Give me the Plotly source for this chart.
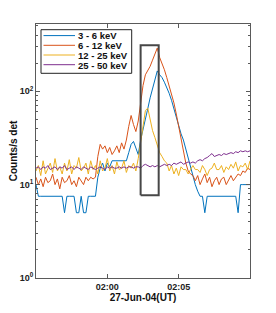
import pandas as pd
import plotly.graph_objects as go

# sample times (10 s cadence) 01:55:00 .. 02:10:00 on 27-Jun-2004
times = pd.date_range("2004-06-27 01:55:00", periods=91, freq="10s")

band_3_6 = [10, 7.5, 7.5, 7.5, 7.5, 7.5, 7.5, 7.5, 7.5, 7.5, 7.5, 7.5, 5, 7.5, 7.5, 7.5, 7.5, 5, 5, 7.5,
            5, 5, 7.5, 7.5, 7.5, 7.5, 12, 15, 17, 14, 17, 15.5, 18, 18, 18, 18, 18, 18, 18, 22,
            27, 29, 24, 21, 30, 40, 52, 65, 85, 105, 135, 165, 150, 140, 125, 110, 95, 80, 65, 52,
            42, 35, 30, 24, 19, 15, 12, 10, 8.5, 7.5, 7.5, 5, 7.5, 7.5, 7.5, 7.5, 7.5, 7.5, 7.5, 7.5,
            7.5, 7.5, 7.5, 7.5, 7.5, 5, 10, 10, 10, 10, 10]

band_6_12 = [12, 10, 11.5, 9.5, 12, 10.5, 11, 13, 10, 11.5, 9, 12, 10.5, 11, 12.5, 10, 11, 9.5, 12, 11,
             10, 12, 11, 12, 11.5, 12,
             20, 27, 24, 26, 22, 25, 21, 23, 26, 22, 28, 24, 30,
             42, 55, 44, 37, 48,
             80, 115, 150, 165, 185, 215, 245, 290, 230, 200, 170, 140, 115, 95, 75, 57, 42, 30, 24,
             17, 14, 13, 12.5,
             11, 12.5, 10, 11.5, 13, 10.5, 12, 9.5, 11, 12, 10, 11.5, 12, 10, 11, 12.5, 11, 12, 13,
             12.5, 14, 13.5, 15, 14.5]

band_12_25 = [14, 16, 12.5, 18, 13, 15, 17, 13.5, 19, 14, 15.5, 13, 17, 14, 18.5, 13, 16, 15, 19.5, 14,
              15, 17, 13, 18, 14.5, 16,
              13, 18, 14, 15, 19, 14, 16, 13, 17.5, 14.5, 15, 18, 13.5, 16, 15, 17, 14, 19,
              28, 45, 62, 66, 48, 38, 32, 27, 22, 20, 18, 17, 14, 16, 13,
              15, 12.5, 15.5, 14.5, 14.5, 13, 14.5, 16, 14.5, 14.5, 13.5, 16, 14.5, 12.5, 14.5, 15,
              17, 14.5, 14.5, 16, 13.5, 15.5, 14.5, 16.5, 15, 17.5, 14, 16, 15.5, 17, 14.5, 18]

band_25_50 = [15, 15.5, 14.5, 15.5, 15, 16, 14.5, 15, 15.5, 14.5, 15.5, 15, 16, 14.5, 15, 15.5, 14.5,
              15.5, 15, 14.5, 15.5, 15, 14.5, 15.5, 15, 14.5,
              15, 15.5, 15, 14.5, 15.5, 15, 15.5, 15, 15, 15.5, 15, 15.5, 15, 15.5, 15.5, 15, 15.5,
              15.5, 15, 16,
              16.5, 16, 15.5, 16, 15.5, 16, 15.5, 16, 16.5, 16, 16.5, 16, 17, 16.5, 17, 17.5, 16.5,
              17, 17.5, 17,
              17.5, 17, 18, 18.5, 18, 19, 19.5, 20.5, 21.5, 20, 20.5, 21, 20.5, 21.5, 21, 21.5, 22,
              21.5, 22.5, 22, 23, 22.5, 23, 22.5, 23]

series_names = ["3 - 6 keV", "6 - 12 keV", "12 - 25 keV", "25 - 50 keV"]
series_values = [band_3_6, band_6_12, band_12_25, band_25_50]
series_colors = ["#0072BD", "#D95319", "#EDB120", "#7E2F8E"]

# highlighted interval (box)
rect_t0 = "2004-06-27 02:02:20"
rect_t1 = "2004-06-27 02:03:36"
rect_lo = 7.7
rect_hi = 310

x_tickvals = ["2004-06-27 02:00:00", "2004-06-27 02:05:00"]
x_ticktext = ["02:00", "02:05"]
y_tickvals = [1, 10, 100]
y_ticktext = ["10<sup>0</sup>", "10<sup>1</sup>", "10<sup>2</sup>"]
y_minor = [2, 3, 4, 5, 6, 7, 8, 9, 20, 30, 40, 50, 60, 70, 80, 90, 200, 300, 400, 500]

FONT = "Liberation Sans, Arial, sans-serif"
AXC = "#5a5a5a"

# the page body adds an 8 px offset, so the figure is drawn 8 px smaller
OFF = 8
W, H = 276 - OFF, 313 - OFF
ML, MT = 36 - OFF, 24 - OFF
PW, PH = 214, 254
MR, MB = W - ML - PW, H - MT - PH


def px(x):
    """page pixel x (reference image) -> paper fraction"""
    return (x - OFF - ML) / PW


def py(y):
    """page pixel y (reference image) -> paper fraction"""
    return (MT + PH - (y - OFF)) / PH


fig = go.Figure()
for name, vals, col in zip(series_names, series_values, series_colors):
    fig.add_trace(go.Scatter(x=times, y=vals, mode="lines", name=name,
                             line=dict(color=col, width=1), showlegend=False))

fig.add_trace(go.Scatter(x=[rect_t0, rect_t1, rect_t1, rect_t0, rect_t0],
                         y=[rect_lo, rect_lo, rect_hi, rect_hi, rect_lo],
                         mode="lines", line=dict(color="#474747", width=2),
                         showlegend=False, hoverinfo="skip"))

# hand-built legend (compact, like the original)
shapes = [dict(type="rect", xref="paper", yref="paper",
               x0=px(41), x1=px(131.7), y0=py(73.3), y1=py(29.7),
               line=dict(color="#222", width=1), fillcolor="white", layer="above")]
annotations = []
row_y = [35.6, 45.3, 55.0, 64.7]
for name, col, ry in zip(series_names, series_colors, row_y):
    shapes.append(dict(type="line", xref="paper", yref="paper",
                       x0=px(43.5), x1=px(75), y0=py(ry), y1=py(ry),
                       line=dict(color=col, width=1), layer="above"))
    annotations.append(dict(xref="paper", yref="paper", x=px(76.5), y=py(ry + 0.3),
                            xanchor="left", yanchor="middle", showarrow=False,
                            text=name, borderpad=0,
                            font=dict(size=9.5, family=FONT, color="#111", weight="bold")))

fig.update_layout(
    width=W, height=H,
    margin=dict(l=ML, r=MR, t=MT, b=MB, autoexpand=False),
    paper_bgcolor="white", plot_bgcolor="white",
    font=dict(family=FONT, size=9, color="#222", weight="bold"),
    showlegend=False,
    shapes=shapes, annotations=annotations,
)

fig.update_xaxes(
    automargin=False,
    range=["2004-06-27 01:55:00", "2004-06-27 02:10:00"],
    tickmode="array", tickvals=x_tickvals, ticktext=x_ticktext,
    ticks="inside", ticklen=4, tickcolor=AXC,
    showline=True, linecolor=AXC, linewidth=1, mirror="ticks",
    showgrid=False, zeroline=False,
    tickfont=dict(size=9, family=FONT, color="#222", weight="bold"),
    title=dict(text="27-Jun-04(UT)", standoff=1,
               font=dict(size=10, family=FONT, color="#111", weight="bold")),
)

fig.update_yaxes(
    automargin=False,
    type="log", range=[0, 2.72],
    tickmode="array", tickvals=y_tickvals, ticktext=y_ticktext,
    ticks="inside", ticklen=4, tickcolor=AXC,
    minor=dict(ticks="inside", ticklen=2, tickcolor=AXC, tickmode="array", tickvals=y_minor),
    showline=True, linecolor=AXC, linewidth=1, mirror="ticks",
    showgrid=False, zeroline=False,
    tickfont=dict(size=9, family=FONT, color="#222", weight="bold"),
    title=dict(text="Counts/s det", standoff=3,
               font=dict(size=10, family=FONT, color="#111", weight="bold")),
)

fig.write_html("out.html")
